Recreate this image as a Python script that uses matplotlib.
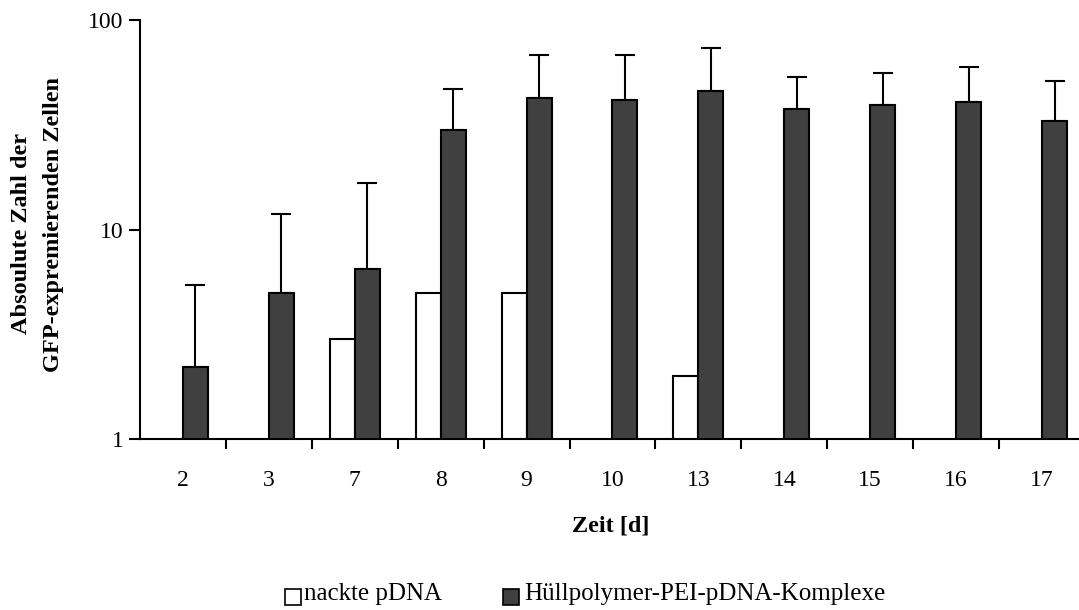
import matplotlib
matplotlib.use("Agg")
import matplotlib.pyplot as plt
import numpy as np
from matplotlib.patches import Rectangle

categories = ["2", "3", "7", "8", "9", "10", "13", "14", "15", "16", "17"]
naked = [np.nan, np.nan, 3.0, 5.0, 5.0, np.nan, 2.0, np.nan, np.nan, np.nan, np.nan]
complex_vals = [2.2, 5.0, 6.5, 30.0, 42.5, 41.5, 46.0, 37.8, 39.5, 40.5, 33.0]
complex_err = [3.25, 6.9, 10.2, 17.0, 25.5, 26.5, 27.5, 15.6, 16.3, 19.2, 18.1]
legend_labels = ["nackte pDNA", "Hüllpolymer-PEI-pDNA-Komplexe"]

plt.rcParams['font.family'] = ['Liberation Serif', 'DejaVu Serif']

W, H = 1079, 610
fig = plt.figure(figsize=(W / 100, H / 100), dpi=100)
ax = fig.add_axes([140 / W, (H - 439) / H, (1085 - 140) / W, (439 - 20) / H])

x = np.arange(len(categories))
bw = 0.29
ax.bar(x - bw / 2, naked, width=bw, color="white", edgecolor="black", linewidth=1.5, zorder=2)
ax.bar(x + bw / 2, complex_vals, width=bw, color="#404040", edgecolor="black", linewidth=1.5, zorder=2)
ax.errorbar(x + bw / 2, complex_vals, yerr=[np.zeros(len(x)), complex_err], fmt="none",
            ecolor="black", elinewidth=1.5, capsize=7.5, capthick=1.5, zorder=1)

ax.set_yscale("log")
ax.set_ylim(1, 100)
ax.set_xlim(-0.5, len(categories) - 0.5)
ax.set_yticks([1, 10, 100])
ax.set_yticklabels(["1", "10", "100"])
ax.yaxis.set_minor_locator(matplotlib.ticker.NullLocator())
ax.tick_params(axis="y", which="major", direction="out", length=8, width=1.5, labelsize=17, pad=4)

ax.set_xticks(x)
ax.set_xticklabels(categories)
ax.tick_params(axis="x", which="major", length=0, labelsize=17, pad=22)
ax.set_xticks(np.arange(0.5, len(categories) - 0.5, 1.0), minor=True)
ax.tick_params(axis="x", which="minor", direction="out", length=7, width=1.5)

for s in ["top", "right"]:
    ax.spines[s].set_visible(False)
for s in ["left", "bottom"]:
    ax.spines[s].set_linewidth(1.5)

fig.text(611 / W, 1 - 526 / H, "Zeit [d]", ha="center", va="center", fontsize=17.5, fontweight="bold")
fig.text(22 / W, 1 - 234 / H, "Absoulute Zahl der", rotation=90, ha="center", va="center",
         fontsize=17.5, fontweight="bold")
fig.text(54 / W, 1 - 224 / H, "GFP-expremierenden Zellen", rotation=90, ha="center", va="center",
         fontsize=17.5, fontweight="bold")

# legend (manual, below the plot)
base_y = 1 - 600 / H
t1 = fig.text(442 / W, base_y, legend_labels[0], ha="right", va="baseline", fontsize=18)
t2 = fig.text(524 / W, base_y, legend_labels[1], ha="left", va="baseline", fontsize=18)
fig.canvas.draw()
bb = t1.get_window_extent()
sq = 16
x1 = bb.x0 - 3 - sq
fig.add_artist(Rectangle((x1 / W, 1 - 605 / H), sq / W, sq / H, transform=fig.transFigure,
                         facecolor="white", edgecolor="black", linewidth=1.2))
fig.add_artist(Rectangle((503 / W, 1 - 605 / H), sq / W, sq / H, transform=fig.transFigure,
                         facecolor="#404040", edgecolor="black", linewidth=1.2))

fig.savefig("out.png", dpi=100)
